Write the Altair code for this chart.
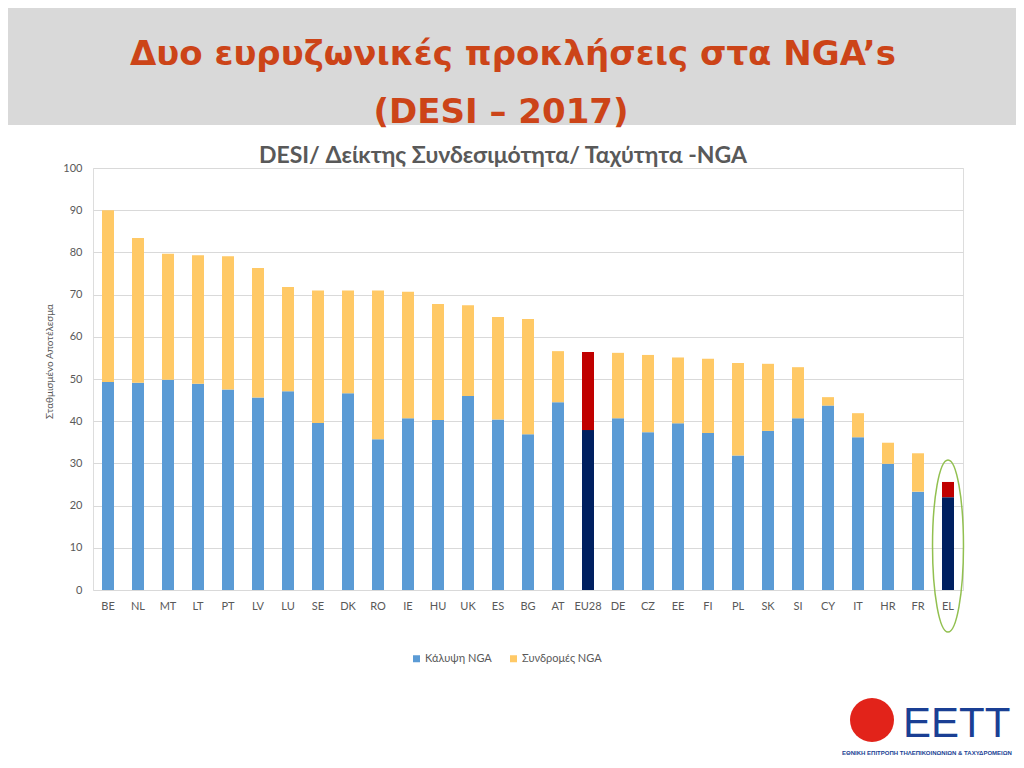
import altair as alt
import pandas as pd

countries = ["BE","NL","MT","LT","PT","LV","LU","SE","DK","RO","IE","HU","UK","ES","BG",
             "AT","EU28","DE","CZ","EE","FI","PL","SK","SI","CY","IT","HR","FR","EL"]
coverage = [49.3,49.1,49.8,48.9,47.5,45.6,47.1,39.6,46.6,35.7,40.7,40.3,46.0,40.4,36.9,
            44.5,37.9,40.7,37.4,39.5,37.2,31.9,37.7,40.7,43.7,36.2,29.9,23.3,22.0]
subscriptions = [40.7,34.3,29.9,30.4,31.6,30.7,24.7,31.4,24.4,35.3,30.0,27.5,21.5,24.3,27.3,
                 12.1,18.5,15.5,18.3,15.6,17.6,21.9,15.9,12.1,2.0,5.7,5.0,9.1,3.6]
highlighted = ["EU28", "EL"]

series_names = ["Κάλυψη NGA", "Συνδρομές NGA"]
highlight_names = ["Κάλυψη NGA ", "Συνδρομές NGA "]
series_colors = ["#5B9BD5", "#FFC966", "#002060", "#C00000"]

title_lines = ["Δυο ευρυζωνικές προκλήσεις στα NGA’s", "(DESI – 2017)"]
chart_title = "DESI/ Δείκτης Συνδεσιμότητα/ Ταχύτητα -NGA"
y_title = "Σταθμισμένο  Αποτέλεσμα"
logo_text = "ΕΕΤΤ"
logo_sub = "ΕΘΝΙΚΗ ΕΠΙΤΡΟΠΗ ΤΗΛΕΠΙΚΟΙΝΩΝΙΩΝ & ΤΑΧΥΔΡΟΜΕΙΩΝ"

rows = []
for c, cov, sub in zip(countries, coverage, subscriptions):
    hl = c in highlighted
    rows.append({"country": c, "value": cov, "ord": 0,
                 "series": highlight_names[0] if hl else series_names[0]})
    rows.append({"country": c, "value": sub, "ord": 1,
                 "series": highlight_names[1] if hl else series_names[1]})
df = pd.DataFrame(rows)

GRAY = "#595959"
FONT = "Lato"
TITLE_FONT = "DejaVu Sans"

one = pd.DataFrame({"a": [0]})

header = alt.Chart(one).mark_rect(color="#D9D9D9").encode(
    x=alt.value(-85), x2=alt.value(923), y=alt.value(-160), y2=alt.value(-43))

title1 = alt.Chart(one).mark_text(
    text=title_lines[0], font=TITLE_FONT, fontWeight="bold", fontSize=34,
    color="#CC4418", align="center", baseline="alphabetic").encode(
    x=alt.value(420), y=alt.value(-103))
title2 = alt.Chart(one).mark_text(
    text=title_lines[1], font=TITLE_FONT, fontWeight="bold", fontSize=34,
    color="#CC4418", align="center", baseline="alphabetic").encode(
    x=alt.value(408), y=alt.value(-45))
ctitle = alt.Chart(one).mark_text(
    text=chart_title, font=FONT, fontWeight="bold", fontSize=23,
    color=GRAY, align="center", baseline="alphabetic").encode(
    x=alt.value(410), y=alt.value(-5))

bars = alt.Chart(df).mark_bar().encode(
    x=alt.X("country:N", sort=countries,
            scale=alt.Scale(paddingInner=0.6, paddingOuter=0.3),
            axis=alt.Axis(title=None, labelAngle=0, domain=False, ticks=False, grid=False,
                          labelFont=FONT, labelFontSize=11, labelColor=GRAY, labelPadding=10)),
    y=alt.Y("value:Q", stack="zero", scale=alt.Scale(domain=[0, 100], nice=False),
            axis=alt.Axis(values=list(range(0, 101, 10)), title=y_title, domain=False,
                          ticks=False, grid=True, gridColor="#D9D9D9", gridWidth=1,
                          labelFont=FONT, labelFontSize=11, labelColor=GRAY, labelPadding=11,
                          titleFont=FONT, titleFontSize=10, titleFontWeight="normal",
                          titleColor=GRAY, titleX=-44, titleY=193, titleBaseline="middle",
                          titleAlign="center", titleAngle=270)),
    color=alt.Color("series:N",
                    scale=alt.Scale(domain=series_names + highlight_names, range=series_colors),
                    legend=alt.Legend(values=series_names, title=None, orient="none",
                                      direction="horizontal", legendX=318, legendY=485,
                                      symbolType="square", symbolSize=49, symbolStrokeWidth=0,
                                      labelFont=FONT, labelFontSize=11, labelColor=GRAY,
                                      columnPadding=16, labelOffset=3)),
    order=alt.Order("ord:Q"),
)

ellipse_df = pd.DataFrame({"country": ["EL"]})
ellipse = alt.Chart(ellipse_df).mark_point(
    shape="M0,-1 A0.18,1 0 1,1 0,1 A0.18,1 0 1,1 0,-1 Z",
    size=29584, filled=False, color="#92C050", strokeWidth=1.5, opacity=1).encode(
    x=alt.X("country:N", sort=countries), y=alt.value(378))

logo_circle = alt.Chart(one).mark_point(
    shape="circle", size=1936, filled=True, color="#E2231A", opacity=1).encode(
    x=alt.value(779), y=alt.value(552))
logo_t = alt.Chart(one).mark_text(
    text=logo_text, font="Liberation Sans", fontSize=42, color="#1A3F94",
    align="left", baseline="alphabetic").encode(x=alt.value(810), y=alt.value(569))
logo_s = alt.Chart(one).mark_text(
    text=logo_sub, font="Liberation Sans", fontWeight="bold", fontSize=6,
    color="#1A3F94", align="center", baseline="middle").encode(
    x=alt.value(834), y=alt.value(585))

chart = alt.layer(header, title1, title2, ctitle, bars, ellipse,
                  logo_circle, logo_t, logo_s).properties(
    width=870, height=422, autosize="none",
    padding={"left": 85, "top": 160, "right": 53, "bottom": 170},
).configure_view(stroke=None).configure(background="white")

chart.save("out.html", embed_options={"renderer": "svg", "actions": False})
